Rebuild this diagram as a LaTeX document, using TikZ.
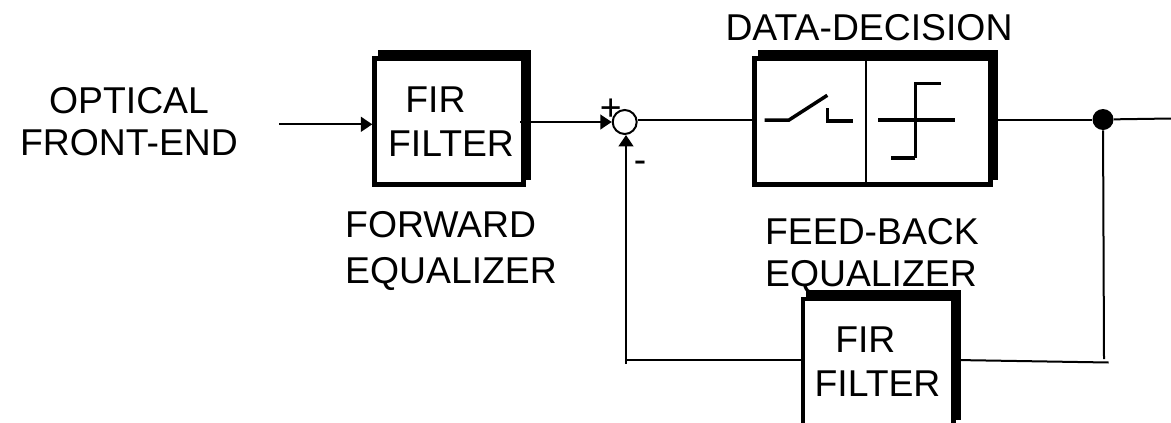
\documentclass[tikz,border=0pt]{standalone}
\usepackage{fontspec}
\setmainfont{Liberation Sans}
\usetikzlibrary{arrows.meta,shadows}
\def\px{0.75pt}
\tikzset{
  firbox/.style={draw,fill=white,line width=4.4*\px,inner sep=0pt,
    minimum height=126*\px,
    general shadow={draw=black,fill=black,line width=4.4*\px,
      shadow xshift=5.5*\px,shadow yshift=6.7*\px}},
  caption/.style={font=\fontsize{28pt}{31.5pt}\selectfont,inner sep=0pt},
  signal/.style={line width=2*\px},
  signalarrow/.style={signal,-{Triangle[length=8.5pt,width=11pt]}},
  sumnode/.style={circle,draw,line width=2*\px,minimum size=24*\px,inner sep=0pt},
  tapnode/.style={circle,fill=black,minimum size=21*\px,inner sep=0pt}
}
\begin{document}
\begin{tikzpicture}[x=0.75pt,y=-0.75pt]
    \path[use as bounding box,clip] (0,0) rectangle (1171,422);

    % Blocks
    \node[firbox,minimum width=149*\px] (forward) at (449,121.6) {};
    \node[firbox,minimum width=236*\px] (decision) at (872.5,121.6) {};
    \node[firbox,minimum width=150.7*\px] (feedback) at (878.2,361.7) {};
    \node[sumnode] (sum) at (624.7,122) {};
    \node[tapnode] (tap) at (1103,119.5) {};

    % Free ends
    \coordinate (inEnd) at (279,124.3);
    \coordinate (outEnd) at (1171,118.5);
    \coordinate (tapEnd) at (1104,359);
    \coordinate (rightEnd) at (1108.7,362.5);
    \coordinate (leftCorner) at (626,360);
    \coordinate (upStart) at (626,364);

    % Connectors
    \draw[signalarrow] (inEnd) -- (inEnd -| forward.west);
    \draw[signalarrow] (520,122) -- (sum.west);
    \draw[signal] (sum.10) -- (sum.10 -| decision.west);
    \draw[signal] (tap -| decision.east) -- (tap);
    \draw[signal] (tap) -- (outEnd);
    \draw[signal] (tap) -- (tapEnd);
    \draw[signal] (feedback.east |- 0,360) -- (rightEnd);
    \draw[signal] (feedback.west |- leftCorner) -- (leftCorner);
    \draw[signalarrow] (upStart) -- (upStart |- sum.south);

    % Switch and slicer
    \draw[line width=1.9*\px] (866,60) -- (866,184);
    \draw[line width=3.5*\px] (764.6,120) -- (789,120) -- (827.3,95.3);
    \draw[line width=3.5*\px] (827.3,108) -- (827.3,121) -- (853,121);
    \draw[line width=4.5*\px] (878,120) -- (955,120);
    \draw[line width=3.2*\px] (941,83.5) -- (915.4,83.5) -- (915.4,158);
    \draw[line width=4.5*\px] (915.4,158) -- (890.5,158);

    % Labels
    \node[caption,align=center] (optical) at (129,121.5) {OPTICAL\\FRONT-END};
    \node[caption,align=left] (firA) at (451,122) {\hspace*{13pt}FIR\\[1.5pt]FILTER};
    \node[caption,align=left] (forwardEq) at (451,250.5) {FORWARD\\[3pt]EQUALIZER};
    \node[caption] (dataDec) at (869,28) {DATA-DECISION};
    \node[caption,align=left] (feedEq) at (872,256) {FEED-BACK\\EQUALIZER};
    \node[caption,align=left] (firB) at (877.5,361.5) {\hspace*{15.5pt}FIR\\[1.5pt]FILTER};
    \node[caption] (plus) at (610.7,110) {+};
    \node[caption] (minus) at (640,167) {-};
  \end{tikzpicture}
\end{document}
